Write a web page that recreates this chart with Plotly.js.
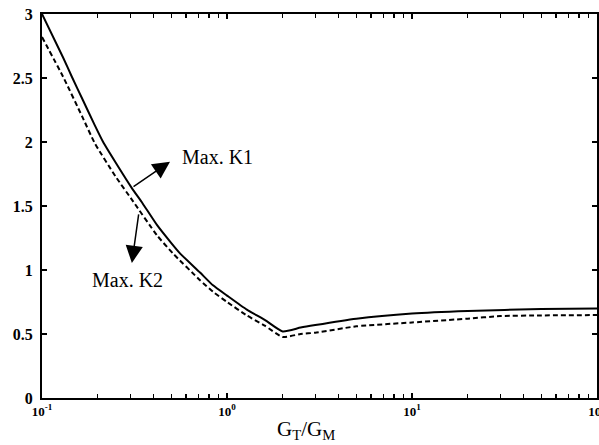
<!DOCTYPE html>
<html>
<head>
<meta charset="utf-8">
<script src="https://cdn.plot.ly/plotly-3.0.1.min.js"></script>
<style>html,body{margin:0;padding:0;background:#fff;}#chart{width:599px;height:445px;}</style>
</head>
<body>
<div id="chart"></div>
<script>
// G_T/G_M ratio
var ratioK1 = [0.1, 0.13, 0.145, 0.166, 0.193, 0.214, 0.25, 0.306, 0.35, 0.419, 0.5, 0.557, 0.715, 0.84, 1.0, 1.28, 1.6, 2.0, 2.5, 3, 5, 10, 20, 50, 100];
var maxK1   = [3.0, 2.66, 2.51, 2.33, 2.13, 2.0, 1.84, 1.64, 1.52, 1.35, 1.21, 1.13, 0.98, 0.88, 0.80, 0.69, 0.61, 0.52, 0.55, 0.57, 0.62, 0.66, 0.68, 0.695, 0.70];
var ratioK2 = [0.1, 0.13, 0.166, 0.193, 0.25, 0.306, 0.419, 0.51, 0.715, 0.84, 1.0, 1.28, 1.6, 2.0, 2.5, 3, 5, 10, 20, 30, 50, 100];
var maxK2   = [2.82, 2.51, 2.19, 1.99, 1.73, 1.55, 1.27, 1.13, 0.92, 0.83, 0.75, 0.645, 0.565, 0.477, 0.50, 0.51, 0.56, 0.59, 0.62, 0.64, 0.645, 0.648];
var xTickVals = [0.1, 1, 10, 100];
var xTickText = ['<b>10<sup>-1</sup></b>', '<b>10<sup>0</sup></b>', '<b>10<sup>1</sup></b>', '<b>10<sup>2</sup></b>'];
var yTickVals = [0, 0.5, 1, 1.5, 2, 2.5, 3];
var yTickText = ['<b>0</b>', '<b>0.5</b>', '<b>1</b>', '<b>1.5</b>', '<b>2</b>', '<b>2.5</b>', '<b>3</b>'];
var labelK1 = 'Max. K1';
var labelK2 = 'Max. K2';
var xTitle = 'G<sub>T</sub>/G<sub>M</sub>';

var minorVals = [];
[0.1, 1, 10].forEach(function (d) { for (var k = 2; k <= 9; k++) minorVals.push(d * k); });

var traces = [
  {x: ratioK1, y: maxK1, mode: 'lines', line: {color: '#000', width: 2, shape: 'spline', smoothing: 0.5}, name: labelK1, showlegend: false},
  {x: ratioK2, y: maxK2, mode: 'lines', line: {color: '#000', width: 2, dash: '5px,3px', shape: 'spline', smoothing: 0.5}, name: labelK2, showlegend: false}
];

var serif = 'Liberation Serif, Times New Roman, serif';
var layout = {
  width: 599, height: 445,
  margin: {l: 42, r: 2, t: 14, b: 47},
  paper_bgcolor: '#fff', plot_bgcolor: '#fff',
  showlegend: false,
  xaxis: {
    type: 'log', range: [-1, 2],
    tickmode: 'array', tickvals: xTickVals, ticktext: xTickText,
    ticks: 'inside', ticklen: 5, tickwidth: 1.5, tickcolor: '#000',
    minor: {tickmode: 'array', tickvals: minorVals, ticks: 'inside', ticklen: 4, tickwidth: 1.2, tickcolor: '#000'},
    showline: true, linecolor: '#000', linewidth: 2, mirror: 'ticks',
    showgrid: false, zeroline: false,
    ticklabeloverflow: 'allow',
    tickfont: {family: serif, size: 13, color: '#000'}
  },
  yaxis: {
    range: [0, 3],
    tickmode: 'array', tickvals: yTickVals, ticktext: yTickText,
    ticks: 'inside', ticklen: 5, tickwidth: 1.5, tickcolor: '#000',
    showline: true, linecolor: '#000', linewidth: 2, mirror: 'ticks',
    showgrid: false, zeroline: false,
    ticklabelstandoff: 4,
    tickfont: {family: serif, size: 16, color: '#000'}
  },
  annotations: [
    {x: Math.log10(0.492), y: 1.846, xref: 'x', yref: 'y', text: '', showarrow: true,
     ax: -38, ay: 26, arrowhead: 2, arrowsize: 2.3, arrowwidth: 1.5, arrowcolor: '#000'},
    {x: Math.log10(0.557), y: 1.88, xref: 'x', yref: 'y', text: labelK1, showarrow: false,
     xanchor: 'left', yanchor: 'middle', font: {family: serif, size: 20, color: '#000'}},
    {x: Math.log10(0.306), y: 1.055, xref: 'x', yref: 'y', text: '', showarrow: true,
     ax: 7, ay: -50, arrowhead: 2, arrowsize: 2.3, arrowwidth: 1.5, arrowcolor: '#000'},
    {x: Math.log10(0.182), y: 0.925, xref: 'x', yref: 'y', text: labelK2, showarrow: false,
     xanchor: 'left', yanchor: 'middle', font: {family: serif, size: 20, color: '#000'}},
    {x: 0.475, y: -0.083, xref: 'paper', yref: 'paper', text: xTitle, showarrow: false,
     xanchor: 'center', yanchor: 'middle', font: {family: serif, size: 21, color: '#000'}}
  ]
};

Plotly.newPlot('chart', traces, layout, {displayModeBar: false, staticPlot: true});
</script>
</body>
</html>
